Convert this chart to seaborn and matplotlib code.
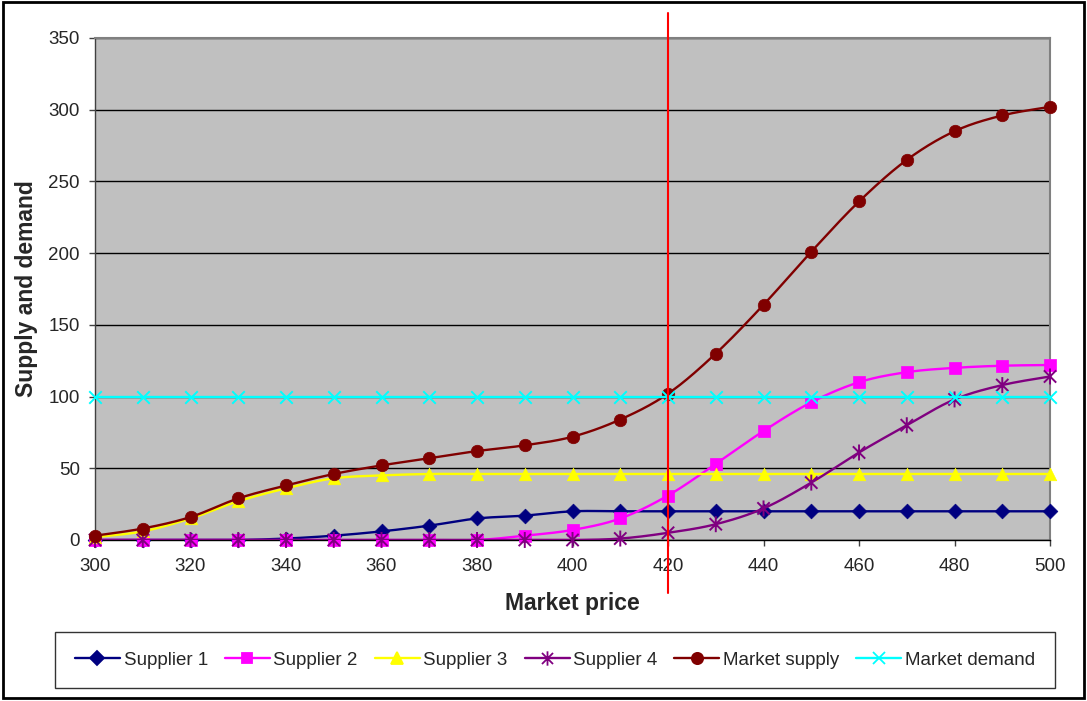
import numpy as np
import pandas as pd
import matplotlib
matplotlib.use("Agg")
import matplotlib.pyplot as plt
from matplotlib.lines import Line2D
from matplotlib.path import Path
from matplotlib.patches import Rectangle
import seaborn as sns

# Market price points
price = [300, 310, 320, 330, 340, 350, 360, 370, 380, 390, 400,
         410, 420, 430, 440, 450, 460, 470, 480, 490, 500]

supplier_1 = [0, 0, 0, 0, 1, 3, 6, 10, 15, 17, 20,
              20, 20, 20, 20, 20, 20, 20, 20, 20, 20]
supplier_2 = [0, 0, 0, 0, 0, 0, 0, 0, 0, 3, 7,
              15, 31, 53, 76, 96, 110, 117, 120, 121.5, 122]
supplier_3 = [2, 6, 15, 27, 36, 43, 45, 46, 46, 46, 46,
              46, 46, 46, 46, 46, 46, 46, 46, 46, 46]
supplier_4 = [0, 0, 0, 0, 0, 0, 0, 0, 0, 0, 0,
              1, 5, 11, 22, 40, 61, 80, 98, 108, 114]
market_supply = [3, 8, 16, 29, 38, 46, 52, 57, 62, 66, 72,
                 84, 102, 130, 164, 201, 236, 265, 285, 296, 302]
market_demand = [100] * 21

equilibrium_price = 420

series_names = ["Supplier 1", "Supplier 2", "Supplier 3", "Supplier 4",
                "Market supply", "Market demand"]
series_values = [supplier_1, supplier_2, supplier_3, supplier_4,
                 market_supply, market_demand]

# Asterisk marker: an X crossed by a vertical bar
star_path = Path(
    [(-1, -1), (1, 1), (-1, 1), (1, -1), (0, -1.3), (0, 1.3)],
    [Path.MOVETO, Path.LINETO, Path.MOVETO, Path.LINETO, Path.MOVETO, Path.LINETO],
)

styles = {
    "Supplier 1": dict(color="#000080", marker="D", size=7.5, kind="filled"),
    "Supplier 2": dict(color="#FF00FF", marker="s", size=8, kind="filled"),
    "Supplier 3": dict(color="#FFFF00", marker="^", size=9, kind="filled"),
    "Supplier 4": dict(color="#800080", marker=star_path, size=11.5, kind="path"),
    "Market supply": dict(color="#800000", marker="o", size=9, kind="filled"),
    "Market demand": dict(color="#00FFFF", marker="x", size=9, kind="line"),
}


def smooth_curve(x, y, steps=20):
    """Catmull-Rom style smoothing used for the connecting lines."""
    x = np.asarray(x, float)
    y = np.asarray(y, float)
    px = np.concatenate([[x[0]], x, [x[-1]]])
    py = np.concatenate([[y[0]], y, [y[-1]]])
    xs, ys = [], []
    for i in range(1, len(px) - 2):
        p0x, p1x, p2x, p3x = px[i - 1], px[i], px[i + 1], px[i + 2]
        p0y, p1y, p2y, p3y = py[i - 1], py[i], py[i + 1], py[i + 2]
        c1x, c1y = p1x + (p2x - p0x) / 6, p1y + (p2y - p0y) / 6
        c2x, c2y = p2x - (p3x - p1x) / 6, p2y - (p3y - p1y) / 6
        t = np.linspace(0, 1, steps, endpoint=(i == len(px) - 3))
        a, b, c, d = (1 - t) ** 3, 3 * (1 - t) ** 2 * t, 3 * (1 - t) * t ** 2, t ** 3
        xs.append(a * p1x + b * c1x + c * c2x + d * p2x)
        ys.append(a * p1y + b * c1y + c * c2y + d * p2y)
    return np.concatenate(xs), np.concatenate(ys)


sns.set_theme(style="white")
plt.rcParams["font.family"] = ["Liberation Sans", "DejaVu Sans"]

fig = plt.figure(figsize=(10.87, 7.01), dpi=100)
ax = fig.add_axes([0.0874, 0.2297, 0.8786, 0.7161])
ax.set_facecolor("#C0C0C0")

handles = []
for z, (name, vals) in enumerate(zip(series_names, series_values)):
    st = styles[name]
    sx, sy = smooth_curve(price, vals)
    sns.lineplot(x=sx, y=sy, ax=ax, color=st["color"], linewidth=1.7,
                 sort=False, zorder=3 + z, legend=False)
    df = pd.DataFrame({"price": price, "value": vals})
    common = dict(data=df, x="price", y="value", ax=ax, marker=st["marker"],
                  s=st["size"] ** 2, zorder=3 + z, legend=False, clip_on=False)
    if st["kind"] == "filled":
        sns.scatterplot(color=st["color"], edgecolor=st["color"], linewidth=0.5, **common)
    elif st["kind"] == "path":
        sns.scatterplot(facecolor="none", edgecolor=st["color"], linewidth=1.4, **common)
    else:
        sns.scatterplot(color=st["color"], linewidth=1.4, **common)
    handles.append(Line2D([], [], color=st["color"], linewidth=1.7,
                          marker=st["marker"], markersize=st["size"] * 0.9,
                          markerfacecolor=st["color"], markeredgecolor=st["color"],
                          markeredgewidth=1.3, label=name))

# Vertical marker at the equilibrium price
ax.axvline(equilibrium_price, ymin=-0.105, ymax=1.05, color="#FF0000",
           linewidth=1.5, clip_on=False, zorder=20)

ax.set_xlim(300, 500)
ax.set_ylim(0, 350)
ax.set_xticks(np.arange(300, 501, 20))
ax.set_yticks(np.arange(0, 351, 50))
ax.yaxis.grid(True, color="black", linewidth=1.0)
ax.xaxis.grid(False)
ax.set_axisbelow(True)

for side in ["left", "right", "top", "bottom"]:
    ax.spines[side].set_visible(True)
    ax.spines[side].set_color("#808080")
    ax.spines[side].set_linewidth(1.5)
ax.spines["left"].set_color("#404040")
ax.spines["left"].set_linewidth(1.0)
ax.spines["bottom"].set_color("black")
ax.spines["bottom"].set_linewidth(1.0)

ax.tick_params(axis="y", direction="out", length=4, width=1, color="#404040",
               pad=7, labelsize=13.5, left=True)
ax.tick_params(axis="x", direction="out", length=4, width=1, color="#404040",
               pad=9, labelsize=13.5, bottom=True)

ax.set_xlabel("Market price", fontsize=16.5, fontweight="bold")
ax.set_ylabel("Supply and demand", fontsize=16.5, fontweight="bold")
ax.xaxis.set_label_coords(0.5, -0.1036)
ax.yaxis.set_label_coords(-0.060, 0.5)

leg = fig.legend(handles=handles, loc="center", bbox_to_anchor=(0.5106, 0.0585),
                 ncol=6, fontsize=13.5, frameon=True, fancybox=False,
                 edgecolor="black", handlelength=2.4, handletextpad=0.2,
                 columnspacing=0.9, borderpad=1.05)
leg.get_frame().set_linewidth(1.0)

# Outer frame around the whole chart
fig.patches.append(Rectangle((0.003, 0.004), 0.994, 0.993, transform=fig.transFigure,
                             fill=False, edgecolor="black", linewidth=2.0))

fig.savefig("out.png", dpi=100, facecolor="white")
